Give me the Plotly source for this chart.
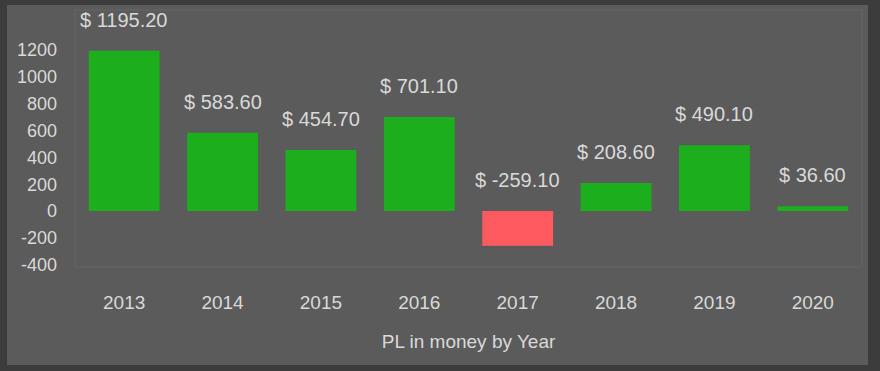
import plotly.graph_objects as go

years = ["2013", "2014", "2015", "2016", "2017", "2018", "2019", "2020"]
pl_values = [1195.20, 583.60, 454.70, 701.10, -259.10, 208.60, 490.10, 36.60]
y_ticks = [-400, -200, 0, 200, 400, 600, 800, 1000, 1200]
y_tick_text = ["-400", "-200", "0", "200", "400", "600", "800", "1000", "1200"]

GREEN = "#1cae1c"
RED = "#ff5a60"
TEXT = "#d9d9d9"
PANEL = "#5b5b5b"
FRAME = "#3c3c3c"
FONT = "Liberation Sans, Arial, sans-serif"

W, H = 880, 371
L, R, T, B = 75, 18, 10, 104
pw, ph = W - L - R, H - T - B

def px_x(px):
    return (px - L) / pw

def px_y(py):
    return (H - B - py) / ph

colors = [GREEN if v >= 0 else RED for v in pl_values]

fig = go.Figure(go.Bar(
    x=years, y=pl_values, marker=dict(color=colors, line=dict(width=0)),
    hoverinfo="skip",
))

for i, v in enumerate(pl_values):
    fig.add_annotation(x=i, y=max(v, 0), text=f"$ {v:.2f}", showarrow=False,
                       yanchor="bottom", yshift=18,
                       font=dict(size=20, color=TEXT, family=FONT))

fig.add_shape(type="rect", xref="paper", yref="paper", layer="below",
              x0=px_x(7), x1=px_x(868), y0=px_y(365), y1=px_y(5),
              fillcolor=PANEL, line=dict(width=0))
fig.add_shape(type="rect", xref="paper", yref="paper", layer="below",
              x0=0, x1=1, y0=0, y1=1,
              fillcolor=PANEL, line=dict(width=1, color="#676767"))

fig.update_layout(
    width=W, height=H,
    margin=dict(l=L, r=R, t=T, b=B),
    paper_bgcolor=FRAME, plot_bgcolor=PANEL,
    bargap=0.28, showlegend=False,
    font=dict(family=FONT, size=18, color=TEXT),
    xaxis=dict(type="category", range=[-0.5, len(years) - 0.5],
               showgrid=False, zeroline=False, showline=False, ticks="",
               tickfont=dict(size=19, color=TEXT), ticklabelstandoff=22,
               title=dict(text="PL in money by Year", font=dict(size=19, color=TEXT), standoff=22)),
    yaxis=dict(range=[-417, 1498], tickvals=y_ticks, ticktext=y_tick_text,
               showgrid=False, zeroline=False,
               showline=False, ticks="", tickfont=dict(size=18, color=TEXT),
               ticklabelstandoff=17),
)

fig.write_html("out.html", config={"displayModeBar": False},
               post_script="document.body.style.margin='0';document.body.style.background='%s';" % FRAME)
